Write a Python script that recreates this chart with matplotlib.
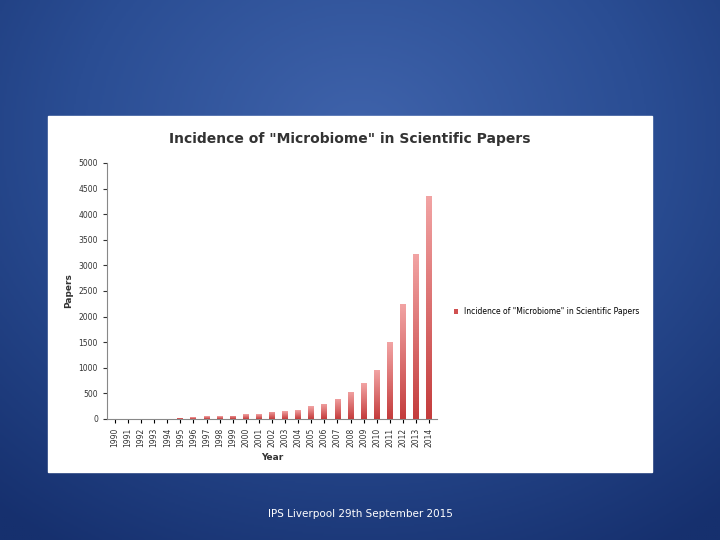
import numpy as np
import matplotlib
matplotlib.use("Agg")
import matplotlib.pyplot as plt
from matplotlib.colors import LinearSegmentedColormap

years = [str(y) for y in range(1990, 2015)]
papers = [5, 5, 5, 3, 3, 20, 30, 50, 55, 60, 90, 90, 140, 150, 170, 250, 300, 400, 530, 700, 950, 1500, 2250, 3220, 4350]
title = 'Incidence of "Microbiome" in Scientific Papers'

fig = plt.figure(figsize=(7.2, 5.4), dpi=100)
bg = fig.add_axes([0, 0, 1, 1])
yy, xx = np.mgrid[0:1:300j, 0:1:400j]
r = np.sqrt(((xx - 0.5) / 0.8) ** 2 + ((yy - 0.25) / 0.9) ** 2)
cmap_bg = LinearSegmentedColormap.from_list("bg", ["#3f63ab", "#2a4d93", "#16306e"])
bg.imshow(np.clip(r, 0, 1), cmap=cmap_bg, aspect="auto", extent=[0, 1, 1, 0])
bg.set_xlim(0, 1); bg.set_ylim(1, 0); bg.axis("off")
bg.add_patch(plt.Rectangle((48 / 720, 116 / 540), 604 / 720, 356 / 540, color="white", zorder=2))
bg.text(0.5, 514 / 540, "IPS Liverpool 29th September 2015", color="white", fontsize=7.5, ha="center", va="center", zorder=3)
bg.text(350 / 720, 139 / 540, title, fontsize=10, fontweight="bold", color="#333333", ha="center", va="center", zorder=3)

ax = fig.add_axes([107 / 720, 1 - 419 / 540, 330 / 720, 256 / 540])
x = np.arange(len(years))
bars = ax.bar(x, papers, width=0.45, color="#d05050", label=title)
cm = LinearSegmentedColormap.from_list("bar", ["#c43c3c", "#f2a4a4"])
grad = np.linspace(0, 1, 256).reshape(-1, 1)
for b in bars:
    bx, by, bw, bh = b.get_x(), b.get_y(), b.get_width(), b.get_height()
    im = ax.imshow(grad, cmap=cm, origin="lower", aspect="auto", extent=[bx, bx + bw, 0, max(bh, 1)], zorder=3)
    im.set_clip_path(b)
ax.set_xlim(-0.6, len(years) - 0.4)
ax.set_ylim(0, 5000)
ax.set_yticks(range(0, 5001, 500))
ax.set_xticks(x)
ax.set_xticklabels(years, rotation=90, fontsize=5.5, color="#333333")
ax.tick_params(axis="y", labelsize=5.5, colors="#333333", length=3)
ax.tick_params(axis="x", length=3)
for s in ["top", "right"]:
    ax.spines[s].set_visible(False)
for s in ["left", "bottom"]:
    ax.spines[s].set_color("#888888")
ax.set_xlabel("Year", fontsize=6.5, fontweight="bold", color="#333333")
ax.set_ylabel("Papers", fontsize=6.5, fontweight="bold", color="#333333")
ax.legend(loc="center left", bbox_to_anchor=(1.03, 0.42), fontsize=5.5, frameon=False, handlelength=0.6, handleheight=0.6)
fig.savefig("out.png", dpi=100)
